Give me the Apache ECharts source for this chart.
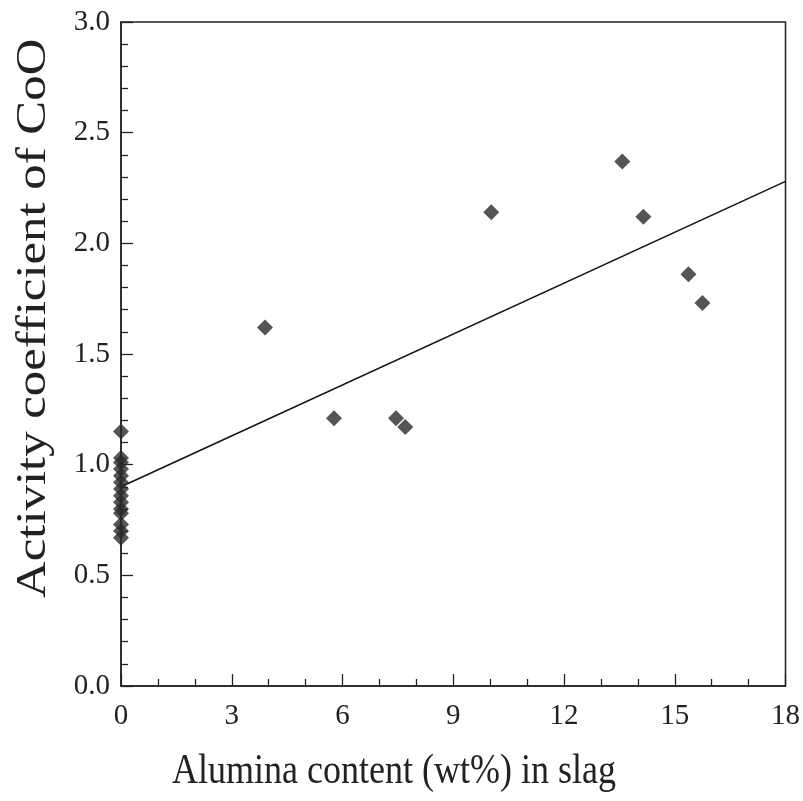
<!DOCTYPE html>
<html>
<head>
<meta charset="utf-8">
<script src="https://cdn.jsdelivr.net/npm/echarts@6/dist/echarts.min.js"></script>
<style>html,body{margin:0;padding:0;background:#fff}#c{width:803px;height:801px}</style>
</head>
<body>
<div id="c"></div>
<script>
// Data
var alumina = [0, 0, 0, 0, 0, 0, 0, 0, 0, 0, 0, 0, 0, 0, 3.9, 5.77, 7.45, 7.7, 10.03, 13.58, 14.15, 15.37, 15.75];
var activity = [1.15, 1.03, 1.01, 0.98, 0.95, 0.92, 0.89, 0.86, 0.83, 0.80, 0.78, 0.73, 0.70, 0.67, 1.62, 1.21, 1.21, 1.17, 2.14, 2.37, 2.12, 1.86, 1.73];
var fitX = [0, 18];
var fitY = [0.9, 2.28];
var xTicks = [0, 3, 6, 9, 12, 15, 18];
var yTicks = [0.0, 0.5, 1.0, 1.5, 2.0, 2.5, 3.0];
var xTitle = 'Alumina content (wt%) in slag';
var yTitle = 'Activity coefficient of CoO';

var pts = alumina.map(function (x, i) { return [x, activity[i]]; });
var fit = fitX.map(function (x, i) { return [x, fitY[i]]; });
var font = '"Liberation Serif", "Times New Roman", serif';

var chart = echarts.init(document.getElementById('c'));
chart.setOption({
  backgroundColor: '#fff',
  animation: false,
  grid: { left: 121, right: 15, top: 22, bottom: 115, show: true, borderColor: '#222', borderWidth: 1.5, backgroundColor: 'transparent' },
  xAxis: {
    type: 'value', min: xTicks[0], max: xTicks[xTicks.length - 1], interval: 3,
    axisLine: { lineStyle: { color: '#222', width: 1.5 } },
    axisTick: { inside: true, length: 12, lineStyle: { color: '#222', width: 1.3 } },
    minorTick: { show: true, splitNumber: 3, length: 7, lineStyle: { color: '#222', width: 1.3 } },
    splitLine: { show: false },
    axisLabel: { fontFamily: font, fontSize: 29, color: '#222', margin: 16,
      formatter: function (v) { return String(v); } }
  },
  yAxis: {
    type: 'value', min: yTicks[0], max: yTicks[yTicks.length - 1], interval: 0.5,
    axisLine: { lineStyle: { color: '#222', width: 1.5 } },
    axisTick: { inside: true, length: 12, lineStyle: { color: '#222', width: 1.3 } },
    minorTick: { show: true, splitNumber: 5, length: 7, lineStyle: { color: '#222', width: 1.3 } },
    splitLine: { show: false },
    axisLabel: { fontFamily: font, fontSize: 29, color: '#222', margin: 11,
      formatter: function (v) { return v.toFixed(1); } }
  },
  graphic: [
    { type: 'text', x: 172, y: 772, scaleY: 1.17,
      style: { text: xTitle, font: '36px ' + font, fill: '#222', textAlign: 'left', textVerticalAlign: 'middle' } },
    { type: 'text', x: 34, y: 598, rotation: Math.PI / 2, scaleX: 1.21,
      style: { text: yTitle, font: '42px ' + font, fill: '#222', textAlign: 'left', textVerticalAlign: 'middle' } }
  ],
  series: [
    { type: 'line', data: fit, symbol: 'none', lineStyle: { color: '#111', width: 1.5 }, z: 2 },
    { type: 'scatter', data: pts, symbol: 'diamond', symbolSize: 16, itemStyle: { color: '#2b2b2b' }, z: 3 }
  ]
});
</script>
</body>
</html>
